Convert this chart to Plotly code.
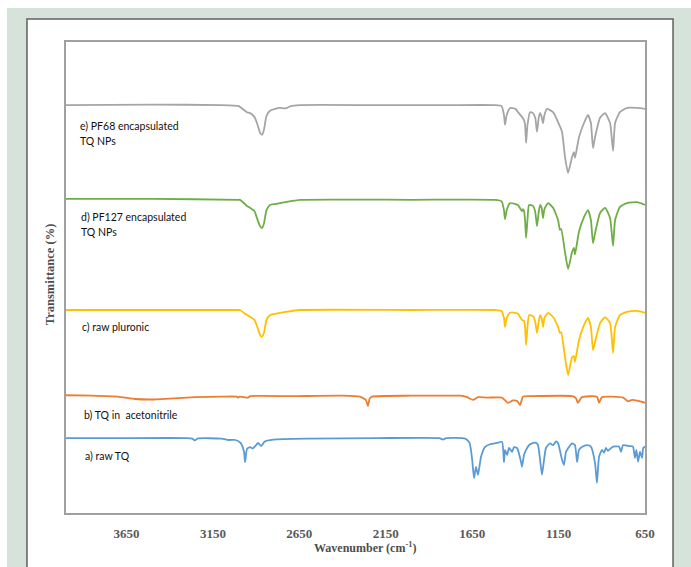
import plotly.graph_objects as go

# FTIR spectra, stacked (transmittance in %, offset per sample)
# a) raw TQ
wn_a = [4000, 3700, 3300, 3270, 3254, 3240, 3100, 3060, 3020, 2990, 2970, 2964, 2953, 2935,
        2920, 2900, 2889, 2870, 2850, 2800, 2600, 2200, 1840, 1819, 1800, 1690, 1665, 1651,
        1639, 1628, 1616, 1599, 1576, 1547, 1506, 1477, 1466, 1460, 1448, 1437, 1419, 1408,
        1390, 1367, 1362, 1350, 1338, 1321, 1304, 1280, 1269, 1257, 1246, 1234, 1223, 1200,
        1182, 1165, 1153, 1130, 1119, 1107, 1090, 1072, 1055, 1043, 1032, 1015, 986, 963,
        939, 928, 916, 899, 887, 876, 864, 852, 835, 800, 789, 777, 740, 720, 708, 700, 690,
        679, 667, 660, 650]
t_a = [15.9, 15.9, 15.9, 15.8, 15.4, 15.8, 15.8, 15.5, 15.5, 14.9, 13.0, 10.8, 13.6, 14.0,
       13.7, 14.4, 14.9, 14.2, 15.2, 15.6, 15.8, 15.9, 15.9, 15.6, 15.9, 15.8, 14.9, 11.7,
       7.4, 9.8, 8.1, 11.9, 14.0, 14.6, 14.9, 15.1, 10.8, 13.4, 12.3, 13.8, 13.0, 14.0,
       13.8, 10.8, 9.8, 12.3, 13.4, 14.4, 14.8, 14.9, 14.4, 11.3, 8.1, 11.3, 13.8, 14.8,
       14.4, 15.2, 14.8, 11.3, 10.2, 13.0, 14.0, 14.8, 14.4, 10.8, 13.4, 14.0, 14.4, 14.1,
       10.6, 6.4, 11.9, 13.4, 12.8, 13.8, 13.2, 13.6, 14.1, 14.1, 13.0, 14.4, 14.2, 14.1,
       11.7, 13.4, 10.9, 13.0, 11.7, 13.8, 14.1]

# b) TQ in acetonitrile
wn_b = [4000, 3850, 3700, 3600, 3500, 3400, 3250, 3100, 3011, 3005, 2995, 2947, 2935, 2700,
        2400, 2300, 2282, 2265, 2253, 2243, 2230, 2000, 1800, 1720, 1680, 1645, 1616, 1560,
        1477, 1443, 1414, 1390, 1373, 1356, 1300, 1072, 1050, 1038, 1015, 928, 916, 899,
        777, 748, 725, 690, 650]
t_b = [25.0, 24.9, 24.7, 24.2, 24.1, 24.3, 24.6, 24.7, 24.7, 24.5, 24.7, 24.5, 24.8, 24.8,
       24.9, 24.7, 24.4, 24.0, 22.7, 24.3, 24.7, 24.9, 24.9, 24.9, 24.6, 24.0, 24.6, 24.5,
       24.5, 23.4, 23.9, 23.8, 22.9, 24.7, 24.8, 24.8, 24.4, 23.4, 24.6, 24.7, 23.4, 24.6,
       24.5, 23.7, 24.0, 23.8, 23.4]

# c) raw pluronic
wn_c = [4000, 3500, 3000, 2993, 2964, 2941, 2910, 2895, 2877, 2866, 2855, 2840, 2820, 2790,
        2730, 2646, 2000, 1520, 1480, 1466, 1460, 1450, 1431, 1400, 1385, 1362, 1350, 1344,
        1338, 1330, 1321, 1298, 1285, 1275, 1265, 1257, 1248, 1240, 1232, 1211, 1182, 1153,
        1142, 1135, 1113, 1095, 1072, 1061, 1055, 1032, 1003, 980, 963, 951, 939, 910, 881,
        852, 835, 823, 795, 754, 696, 650]
t_c = [43.1, 43.1, 43.1, 43.1, 42.3, 41.8, 41.0, 39.7, 37.8, 37.4, 38.2, 41.0, 42.0, 42.3,
       42.7, 43.1, 43.1, 43.1, 42.9, 41.4, 39.5, 41.4, 42.5, 42.5, 42.3, 41.0, 40.8, 39.5,
       35.7, 39.5, 42.0, 41.8, 40.6, 38.2, 40.6, 42.0, 41.4, 39.5, 41.4, 42.5, 41.6, 39.5,
       38.2, 38.4, 33.1, 29.3, 33.1, 33.3, 32.1, 36.7, 39.9, 41.4, 39.5, 34.6, 36.3, 40.3,
       41.6, 40.3, 34.0, 39.5, 42.0, 42.7, 42.9, 42.5]

# d) PF127 encapsulated TQ NPs
wn_d = [4000, 3500, 3000, 2993, 2953, 2935, 2910, 2895, 2880, 2866, 2855, 2840, 2820, 2790,
        2762, 2700, 2646, 2000, 1520, 1480, 1466, 1460, 1450, 1431, 1400, 1385, 1362, 1356,
        1350, 1344, 1338, 1330, 1321, 1298, 1285, 1275, 1265, 1257, 1248, 1240, 1232, 1211,
        1182, 1153, 1142, 1135, 1113, 1095, 1072, 1061, 1055, 1032, 1003, 980, 963, 951, 939,
        910, 881, 852, 835, 823, 795, 754, 696, 650]
t_d = [66.7, 66.7, 66.5, 66.5, 65.2, 64.8, 64.1, 62.6, 61.1, 60.5, 61.4, 64.3, 65.4, 65.6,
       65.8, 66.2, 66.5, 66.5, 66.5, 66.2, 64.3, 62.4, 64.3, 65.8, 65.6, 65.4, 64.1, 64.5,
       64.1, 62.2, 58.4, 62.2, 65.4, 65.2, 63.9, 60.9, 63.9, 65.4, 64.8, 62.6, 64.5, 65.8,
       64.8, 62.2, 60.1, 60.3, 55.4, 51.8, 55.4, 56.3, 54.9, 59.7, 62.8, 64.3, 62.2, 57.3,
       59.4, 63.7, 64.8, 62.6, 56.7, 62.2, 65.0, 65.8, 66.0, 65.4]

# e) PF68 encapsulated TQ NPs
wn_e = [4000, 3500, 3100, 3000, 2993, 2953, 2935, 2910, 2895, 2877, 2866, 2855, 2840, 2820,
        2790, 2762, 2730, 2700, 2646, 2200, 1800, 1520, 1480, 1466, 1460, 1450, 1431, 1400,
        1385, 1362, 1350, 1344, 1338, 1330, 1315, 1298, 1285, 1275, 1265, 1257, 1248, 1240,
        1232, 1217, 1182, 1153, 1130, 1113, 1095, 1072, 1061, 1055, 1032, 1003, 980, 963, 951,
        939, 910, 881, 852, 835, 823, 795, 754, 696, 650]
t_e = [86.6, 86.7, 86.6, 86.4, 86.2, 85.1, 84.9, 84.1, 82.8, 80.7, 80.3, 81.3, 84.3, 85.4,
       85.8, 86.0, 85.9, 86.4, 86.6, 86.6, 86.6, 86.6, 86.4, 84.5, 82.4, 84.5, 86.0, 85.8,
       85.1, 84.1, 83.4, 82.4, 78.6, 82.4, 85.1, 84.9, 83.9, 80.9, 83.9, 84.9, 84.1, 82.8,
       84.5, 85.8, 85.1, 83.0, 80.9, 75.6, 72.2, 75.6, 76.6, 75.4, 79.8, 82.8, 84.5, 82.8,
       77.5, 79.8, 83.9, 84.9, 82.8, 76.9, 82.8, 85.1, 86.0, 86.0, 85.8]

series = [
    (wn_a, t_a, "#5b9bd5"),
    (wn_b, t_b, "#ed7d31"),
    (wn_c, t_c, "#ffc000"),
    (wn_d, t_d, "#70ad47"),
    (wn_e, t_e, "#a5a5a5"),
]

# sample labels: (text lines, left x in paper units, y of each line in paper units)
labels = [
    (["e) PF68 encapsulated", "TQ NPs"], 0.021, [0.822, 0.790]),
    (["d) PF127 encapsulated", "TQ NPs"], 0.023, [0.6285, 0.5966]),
    (["c) raw pluronic"], 0.025, [0.395]),
    (["b) TQ in  acetonitrile"], 0.027, [0.208]),
    (["a) raw TQ"], 0.029, [0.121]),
]

tick_vals = [650, 1150, 1650, 2150, 2650, 3150, 3650]

fig = go.Figure()
for wn, t, col in series:
    fig.add_trace(go.Scatter(x=wn, y=t, mode="lines",
                             line=dict(color=col, width=1.8, shape="spline", smoothing=0.5),
                             hoverinfo="skip", showlegend=False))

# page frame: grey-green surround with a white panel
fig.add_shape(type="rect", xref="paper", yref="paper",
              x0=-0.102, x1=1.08, y0=-0.13, y1=1.072,
              fillcolor="#d6e3da", line=dict(width=0), layer="below")
fig.add_shape(type="rect", xref="paper", yref="paper",
              x0=-0.0674, x1=1.0484, y0=-0.14, y1=1.0488,
              fillcolor="white", line=dict(color="#606060", width=1.5), layer="below")

for lines, x, ys in labels:
    for txt, y in zip(lines, ys):
        fig.add_annotation(text=txt, xref="paper", yref="paper", x=x, y=y,
                           xanchor="left", yanchor="middle", showarrow=False,
                           font=dict(family="Lato", size=10.5, color="#111111"))

fig.add_annotation(text="Transmittance (%)", xref="paper", yref="paper",
                   x=-0.0276, y=0.505, textangle=-90, showarrow=False,
                   xanchor="center", yanchor="middle",
                   font=dict(family="Liberation Serif", size=12.5, color="#4d4d4d",
                             weight="bold"))
fig.add_annotation(text="Wavenumber (cm<sup>-1</sup>)", xref="paper", yref="paper",
                   x=0.5164, y=-0.074, showarrow=False,
                   xanchor="center", yanchor="middle",
                   font=dict(family="Liberation Serif", size=12, color="#4d4d4d",
                             weight="bold"))

fig.update_xaxes(range=[4000, 650], tickvals=tick_vals,
                 ticktext=[str(v) for v in tick_vals],
                 showgrid=False, zeroline=False, ticks="", ticklabelstandoff=8,
                 showline=True, mirror=True, linecolor="#a0a0a0", linewidth=1.5,
                 tickfont=dict(family="Liberation Serif", size=13, color="#595959",
                               weight="bold"))
fig.update_yaxes(range=[0, 100], showticklabels=False, showgrid=False, zeroline=False,
                 ticks="", showline=True, mirror=True, linecolor="#a0a0a0", linewidth=1.5)

fig.update_layout(width=691, height=567,
                  margin=dict(l=66, r=46, t=42, b=54),
                  paper_bgcolor="white", plot_bgcolor="rgba(0,0,0,0)")

fig.write_html("out.html")
